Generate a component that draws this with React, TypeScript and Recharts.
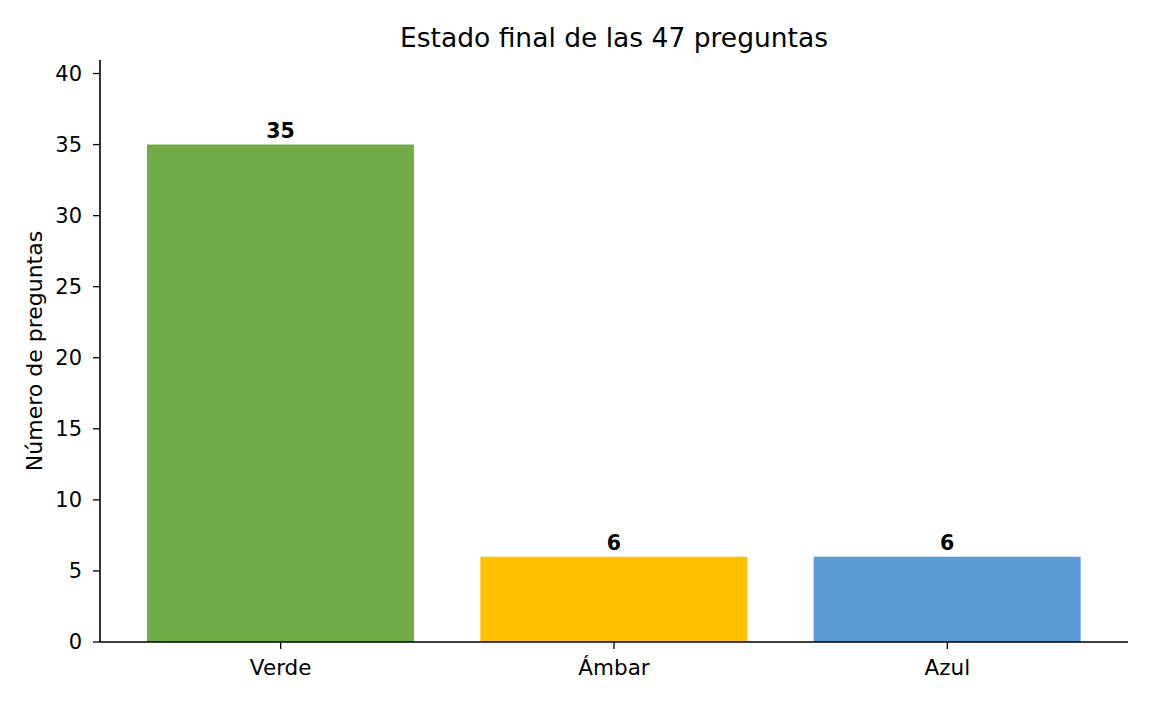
import React from 'react';
import { BarChart, Bar, XAxis, YAxis, Cell, LabelList } from 'recharts';

const categories = ['Verde', 'Ámbar', 'Azul'];
const counts = [35, 6, 6];
const barColors = ['#70AD47', '#FFC000', '#5B9BD5'];
const yTicks = [0, 5, 10, 15, 20, 25, 30, 35, 40];

const data = categories.map((name, i) => ({ name, value: counts[i] }));

const FONT = '"DejaVu Sans", sans-serif';

function YLabel({ viewBox }: any) {
  const x = 42;
  const y = viewBox.y + viewBox.height / 2;
  return (
    <text
      x={x}
      y={y}
      transform={`rotate(-90 ${x} ${y})`}
      textAnchor="middle"
      fontFamily={FONT}
      fontSize={22}
      fill="#000"
    >
      Número de preguntas
    </text>
  );
}

export default function App() {
  return (
    <div
      style={{
        position: 'absolute',
        left: 0,
        top: 0,
        width: 1152,
        height: 704,
        background: '#fff',
        fontFamily: FONT,
      }}
    >
      <div
        style={{
          position: 'absolute',
          left: 100,
          top: 25,
          width: 1028,
          textAlign: 'center',
          fontSize: 26.5,
          lineHeight: '26px',
          color: '#000',
        }}
      >
        Estado final de las 47 preguntas
      </div>
      <BarChart
        width={1152}
        height={704}
        data={data}
        margin={{ top: 60, right: 24, bottom: 0, left: 0 }}
      >
        <XAxis
          dataKey="name"
          height={62}
          padding={{ left: 14, right: 14 }}
          axisLine={{ stroke: '#000', strokeWidth: 1.6 }}
          tickLine={{ stroke: '#000', strokeWidth: 1.3 }}
          tickSize={7}
          tickMargin={11}
          tick={{ fill: '#000', fontSize: 21.5, fontFamily: FONT }}
        />
        <YAxis
          width={100}
          domain={[0, 40.95]}
          ticks={yTicks}
          axisLine={{ stroke: '#000', strokeWidth: 1.6 }}
          tickLine={{ stroke: '#000', strokeWidth: 1.3 }}
          tickSize={7}
          tickMargin={11}
          tick={{ fill: '#000', fontSize: 21, fontFamily: FONT }}
          label={<YLabel />}
        />
        <Bar dataKey="value" barSize={267} isAnimationActive={false}>
          {data.map((d, i) => (
            <Cell key={d.name} fill={barColors[i]} />
          ))}
          <LabelList
            dataKey="value"
            position="top"
            offset={7}
            fill="#000"
            fontSize={20.5}
            fontWeight="bold"
            fontFamily={FONT}
          />
        </Bar>
      </BarChart>
    </div>
  );
}
